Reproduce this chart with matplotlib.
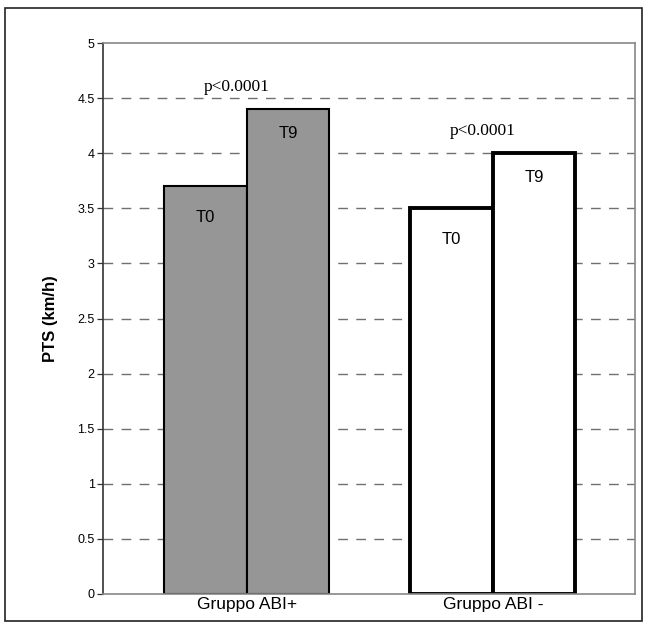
import matplotlib.pyplot as plt
import matplotlib.patches as patches
import numpy as np

plt.rcParams['font.family'] = ['Liberation Sans', 'DejaVu Sans']

# data
gruppi = ['Gruppo ABI+', 'Gruppo ABI -']
tempi = ['T0', 'T9']
t0_vals = [3.7, 3.5]
t9_vals = [4.4, 4.0]
p_text = ['p<0.0001', 'p<0.0001']

fig = plt.figure(figsize=(6.48, 6.25), dpi=100)
ax = fig.add_axes([103 / 648, (625 - 594) / 625, (635 - 103) / 648, (594 - 43) / 625])

x = np.arange(len(gruppi))
w = 0.335

# gridlines behind bars
for yv in np.arange(0.5, 5.0, 0.5):
    ax.axhline(yv, color='#707070', lw=1.0, ls=(0, (7, 6)), zorder=0)

face = ['#969696', 'white']
lw = [1.5, 2.8]
for i in range(len(gruppi)):
    ax.bar(x[i] - w / 2, t0_vals[i], w, color=face[i], edgecolor='black', linewidth=lw[i], zorder=2)
    ax.bar(x[i] + w / 2, t9_vals[i], w, color=face[i], edgecolor='black', linewidth=lw[i], zorder=2)
    ax.text(x[i] - w / 2, t0_vals[i] - 0.28, tempi[0], ha='center', va='center', fontsize=12, zorder=3)
    ax.text(x[i] + w / 2, t9_vals[i] - 0.22, tempi[1], ha='center', va='center', fontsize=12, zorder=3)
    ax.text(x[i] - 0.04, max(t0_vals[i], t9_vals[i]) + 0.2, p_text[i], ha='center', va='center',
            fontsize=12.5, family='Liberation Serif', zorder=3)

ax.set_xlim(-0.585, 1.578)
ax.set_ylim(0, 5)
ax.set_yticks(np.arange(0, 5.01, 0.5))
ax.set_yticklabels(['0', '0.5', '1', '1.5', '2', '2.5', '3', '3.5', '4', '4.5', '5'])
ax.set_xticks(x)
ax.set_xticklabels(gruppi, fontsize=12.5)
ax.tick_params(axis='x', length=0, pad=2)
ax.tick_params(axis='y', length=4, width=0.9, labelsize=9, pad=2, color='#333333')
ax.set_ylabel('PTS (km/h)', fontsize=12, fontweight='bold', labelpad=14)

ax.spines['left'].set_color('#333333')
ax.spines['left'].set_linewidth(1.2)
for s in ['top', 'right', 'bottom']:
    ax.spines[s].set_color('#888888')
    ax.spines[s].set_linewidth(1.2)

# outer frame
fig.patches.append(patches.Rectangle((5 / 648, 4 / 625), 637 / 648, 613 / 625, transform=fig.transFigure,
                                     fill=False, edgecolor='#222222', linewidth=1.2))

fig.savefig('out.png', dpi=100)
